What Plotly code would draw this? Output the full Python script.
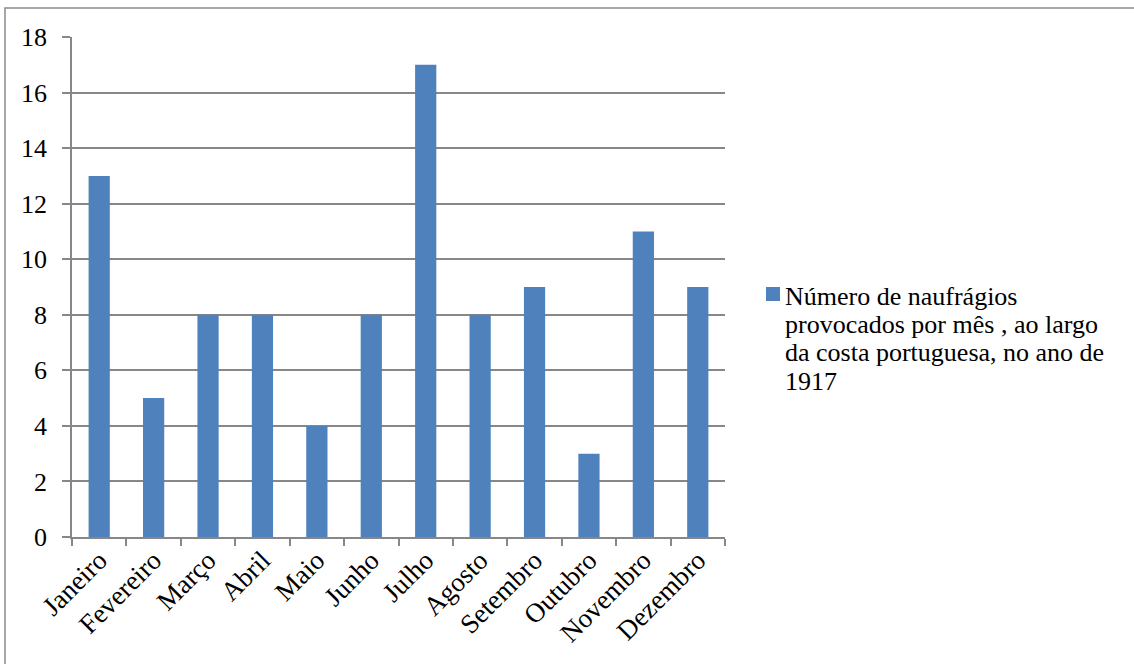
import plotly.graph_objects as go

# Monthly shipwreck counts off the Portuguese coast, 1917
months = ["Janeiro", "Fevereiro", "Março", "Abril", "Maio", "Junho",
          "Julho", "Agosto", "Setembro", "Outubro", "Novembro", "Dezembro"]
shipwrecks = [13, 5, 8, 8, 4, 8, 17, 8, 9, 3, 11, 9]
series_name_lines = ["Número de naufrágios",
                     "provocados por mês , ao largo",
                     "da costa portuguesa, no ano de",
                     "1917"]
y_ticks = [0, 2, 4, 6, 8, 10, 12, 14, 16, 18]

BAR = "#4F81BD"
GRID = "#878787"
FONT = "Liberation Serif, Times New Roman, serif"

W, H = 1134, 664
L, R, T, B = 72, 409, 37, 127
pw, ph = W - L - R, H - T - B

def px_x(x):
    return (x - L) / pw

def px_y(y):
    return (H - B - y) / ph

fig = go.Figure(go.Bar(
    x=months, y=shipwrecks, marker_color=BAR, marker_line_width=0,
    name=" ".join(series_name_lines), showlegend=False,
))

fig.update_layout(
    width=W, height=H,
    margin=dict(l=L, r=R, t=T, b=B, pad=0),
    paper_bgcolor="white", plot_bgcolor="white",
    bargap=0.61,
    font=dict(family=FONT, size=26, color="black"),
    xaxis=dict(
        type="category", tickangle=-45, tickson="boundaries",
        ticks="outside", ticklen=7, tickcolor=GRID, tickwidth=1.5,
        showline=True, linecolor=GRID, linewidth=1.5,
        showgrid=False, tickfont=dict(size=27),
        ticklabelstandoff=-5,
    ),
    yaxis=dict(
        range=[0, 18], tickvals=y_ticks,
        ticks="outside", ticklen=8, tickcolor=GRID, tickwidth=1.5,
        showline=True, linecolor=GRID, linewidth=1.5,
        showgrid=True, gridcolor=GRID, gridwidth=1.5,
        zeroline=False, ticklabelstandoff=10,
        tickfont=dict(size=26),
    ),
)

# Outer chart-area frame
fig.add_shape(type="rect", xref="paper", yref="paper",
              x0=px_x(5), x1=px_x(1200), y0=px_y(720), y1=px_y(8),
              line=dict(color="#8a8a8a", width=1.5), fillcolor="rgba(0,0,0,0)",
              layer="below")

# Legend: colour key and wrapped series label
fig.add_shape(type="rect", xref="paper", yref="paper",
              x0=px_x(766), x1=px_x(780), y0=px_y(301), y1=px_y(287),
              line=dict(width=0), fillcolor=BAR)
line_y = [296, 324, 352, 381]
for text, yy in zip(series_name_lines, line_y):
    fig.add_annotation(text=text, xref="paper", yref="paper",
                       x=px_x(783), y=px_y(yy), xanchor="left", yanchor="middle",
                       showarrow=False, font=dict(size=26, family=FONT))

fig.write_html("out.html")
